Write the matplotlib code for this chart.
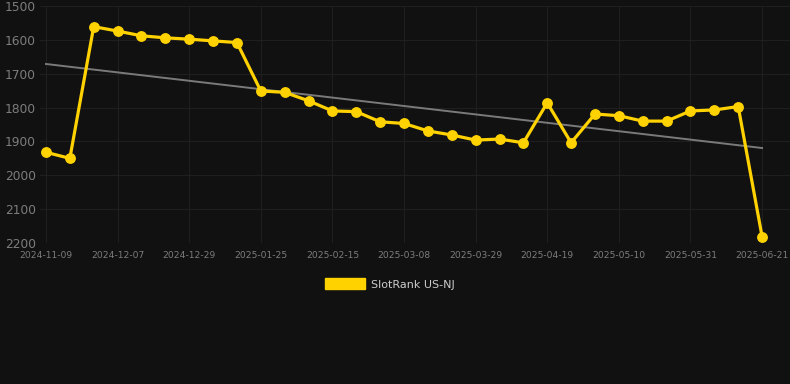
import numpy as np
import matplotlib
matplotlib.use('Agg')
import matplotlib.pyplot as plt
from matplotlib.patches import Patch

# ============================ DATA ============================ #
dates = ['2024-11-09', '2024-11-16', '2024-11-30', '2024-12-07', '2024-12-14',
         '2024-12-21', '2024-12-29', '2025-01-04', '2025-01-18', '2025-01-25',
         '2025-02-01', '2025-02-08', '2025-02-15', '2025-02-22', '2025-03-01',
         '2025-03-08', '2025-03-15', '2025-03-22', '2025-03-29', '2025-04-05',
         '2025-04-12', '2025-04-19', '2025-04-26', '2025-05-03', '2025-05-10',
         '2025-05-17', '2025-05-24', '2025-05-31', '2025-06-07', '2025-06-14',
         '2025-06-21']
rank = [1932, 1950, 1561, 1574, 1588, 1594, 1598, 1603, 1608, 1751,
        1755, 1780, 1810, 1812, 1842, 1847, 1869, 1881, 1896, 1893,
        1904, 1786, 1904, 1819, 1824, 1840, 1840, 1810, 1807, 1797,
        2181]
series_name = 'SlotRank US-NJ'
yticks = [1500, 1600, 1700, 1800, 1900, 2000, 2100, 2200]

# ============================ PLOT ============================ #
bg = '#111111'
gold = '#FFD200'
fig = plt.figure(figsize=(7.9, 3.84), dpi=100, facecolor=bg)
ax = fig.add_axes([40/790, 1 - 243/384, 750/790, 237/384], facecolor=bg)

x = np.arange(len(rank))
# trend line (least squares fit)
coef = np.polyfit(x, rank, 1)
ax.plot(x, np.polyval(coef, x), color='#7a7a7a', lw=1.4, zorder=2)

ax.plot(x, rank, color=gold, lw=2.3, marker='o', ms=6.8, zorder=3)

ax.set_xlim(-0.25, 31.17)
ax.set_ylim(2200, 1500)
ax.set_yticks(yticks)
ax.set_yticklabels([str(v) for v in yticks])
tick_idx = x[::3]
ax.set_xticks(tick_idx)
ax.set_xticklabels([dates[i] for i in tick_idx])

ax.grid(True, color='#1f1f1f', lw=0.8)
ax.set_axisbelow(True)
for s in ax.spines.values():
    s.set_visible(False)
ax.tick_params(axis='y', length=0, pad=3, labelsize=8.8, labelcolor='#7d7d7d')
ax.tick_params(axis='x', length=0, pad=6, labelsize=6.6, labelcolor='#7d7d7d')

fig.legend(handles=[Patch(facecolor=gold, edgecolor=gold)], labels=[series_name],
           loc='center', bbox_to_anchor=(390/790, 1 - 284/384), frameon=False,
           handlelength=3.6, handleheight=1.1, handletextpad=0.5,
           fontsize=8, labelcolor='#cccccc')

fig.savefig('out.png', dpi=100, facecolor=bg)
